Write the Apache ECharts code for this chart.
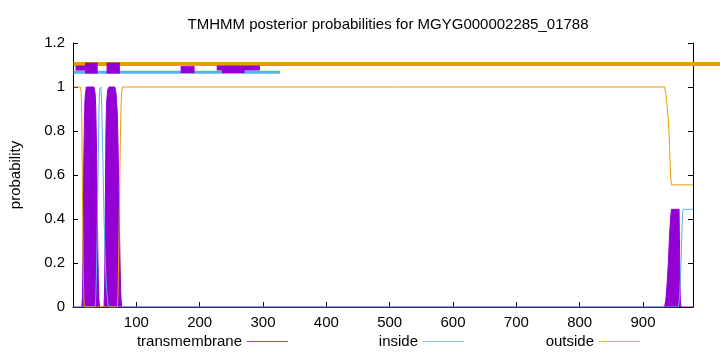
<!DOCTYPE html>
<html><head><meta charset="utf-8">
<script src="https://cdn.jsdelivr.net/npm/echarts@6/dist/echarts.min.js"></script>
<style>html,body{margin:0;padding:0;background:#fff}#c{width:720px;height:352px}</style>
</head><body><div id="c"></div>
<script>
const chartTitle = 'TMHMM posterior probabilities for MGYG000002285_01788';
const seqLength = 979;
const xTickStep = 100;
const yTickStep = 0.2;
const yMax = 1.2;

// posterior probability curves: [residue, probability]
const transmembrane = [[1,0],[14,0],[15,0.05],[16,0.3],[17,0.65],[18,0.85],[19,0.95],[21,1],[33,1],[35,0.97],[36,0.9],[37,0.75],[38,0.55],[39,0.3],[40,0.12],[41,0.03],[42,0],
  [49,0],[50,0.1],[51,0.45],[52,0.8],[53,0.93],[55,0.99],[57,1],[66,1],[68,0.97],[70,0.88],[71,0.75],[72,0.6],[73,0.42],[74,0.25],[75,0.1],[76,0.03],[77,0],
  [934,0],[936,0.03],[938,0.1],[940,0.2],[942,0.33],[944,0.42],[945,0.444],[957,0.444],[958,0.2],[959,0.03],[960,0],[979,0]];
const inside = [[1,0],[35,0],[36,0.05],[37,0.15],[38,0.3],[39,0.5],[40,0.7],[41,0.9],[42,0.99],[44,1],[45,0.95],[47,0.7],[49,0.4],[51,0.2],[53,0.08],[55,0.02],[57,0],
  [956,0],[958,0.05],[960,0.2],[962,0.38],[963,0.444],[979,0.444]];
const outside = [[1,1],[12,1],[13,0.97],[14,0.85],[15,0.5],[16,0.2],[17,0.05],[18,0],[70,0],[71,0.05],[72,0.2],[73,0.4],[74,0.6],[75,0.8],[76,0.93],[77,0.98],[78,1],
  [934,1],[936,0.97],[938,0.92],[940,0.85],[941,0.8],[942,0.73],[943,0.64],[944,0.58],[945,0.555],[979,0.555]];

// predicted topology bars along the top: [start, end]
const outsideBarStart = 1;
const outsideBarLevel = 1.105;
const insideBar = [[1, 327]];
const insideBarLevel = 1.067;
const tmBarsWide = [[19, 39], [53, 74]];
const tmBarsWideLevel = 1.086;
const tmBarsMid = [[170, 192], [235, 271]];
const tmBarsMidLevel = 1.079;
const tmBarsThin = [[4, 19], [227, 295]];
const tmBarsThinLevel = 1.086;

const C_TM = '#9400d3', C_IN = '#56b4e9', C_OUT = '#e69f00';
const FONT = 'Liberation Sans';
const FS = 15;

// full-width helper grid (same left edge and scale as the plot, extends to the canvas edge)
const plotLeft = 73, plotRight = 27, canvasW = 720;
const wideMax = seqLength * (canvasW - plotLeft) / (canvasW - plotLeft - plotRight);

function barSeries(ranges, level, color, width, z, axisIdx) {
  return ranges.map(r => ({
    type: 'line', name: 'bar', data: [[r[0], level], [r[1], level]],
    xAxisIndex: axisIdx, yAxisIndex: axisIdx === 1 ? 2 : 0,
    showSymbol: false, symbol: 'none', clip: false, silent: true, z: z,
    lineStyle: { color: color, width: width, cap: 'butt' }
  }));
}

function legendFor(name, color, right) {
  return { data: [name], right: right, top: 329, align: 'right', icon: 'rect', itemWidth: 41, itemHeight: 1,
    itemStyle: { color: color, borderWidth: 0 },
    textStyle: { fontFamily: FONT, fontSize: FS, color: '#000' } };
}

const chart = echarts.init(document.getElementById('c'), null, { renderer: 'canvas' });
chart.setOption({
  animation: false,
  backgroundColor: '#fff',
  textStyle: { fontFamily: FONT },
  title: {
    text: chartTitle, left: 383, top: 12, textAlign: 'center',
    textStyle: { fontFamily: FONT, fontSize: FS, fontWeight: 'normal', color: '#000' }
  },
  grid: [
    { left: plotLeft, right: plotRight, top: 43, bottom: 45 },
    { left: plotLeft, right: 0, top: 43, bottom: 45 }
  ],
  legend: [
    legendFor('transmembrane', '#a040d8', 427),
    legendFor('inside', '#80c6ee', 251),
    legendFor('outside', '#ecb440', 75)
  ],
  xAxis: [{
    type: 'value', min: 0, max: seqLength, interval: xTickStep, gridIndex: 0,
    axisLine: { show: true, onZero: false, lineStyle: { color: '#000', width: 1 } },
    axisTick: { show: true, inside: true, length: 5, lineStyle: { color: '#000' } },
    axisLabel: { showMinLabel: false, showMaxLabel: false, margin: 8, fontFamily: FONT, fontSize: FS, color: '#000' },
    splitLine: { show: false }
  }, {
    type: 'value', min: 0, max: wideMax, gridIndex: 1, show: false
  }],
  yAxis: [
    { type: 'value', min: 0, max: yMax, interval: yTickStep, name: 'probability', nameLocation: 'middle', nameGap: 50, nameRotate: 90,
      gridIndex: 0,
      nameTextStyle: { fontFamily: FONT, fontSize: FS, color: '#000' },
      axisLine: { show: true, lineStyle: { color: '#000', width: 1 } },
      axisTick: { show: true, inside: true, length: 5, lineStyle: { color: '#000' } },
      axisLabel: { margin: 8, fontFamily: FONT, fontSize: FS, color: '#000' },
      splitLine: { show: false } },
    { type: 'value', min: 0, max: yMax, interval: yTickStep, position: 'right', gridIndex: 0,
      axisLine: { show: true, lineStyle: { color: '#000', width: 1 } },
      axisTick: { show: true, inside: true, length: 5, lineStyle: { color: '#000' } },
      axisLabel: { show: false }, splitLine: { show: false } },
    { type: 'value', min: 0, max: yMax, gridIndex: 1, show: false }
  ],
  series: [
    { type: 'line', name: 'transmembrane', data: transmembrane, showSymbol: false, symbol: 'none', z: 3,
      itemStyle: { color: C_TM }, lineStyle: { color: C_TM, width: 1 }, areaStyle: { color: C_TM, opacity: 1 } },
    { type: 'line', name: 'inside', data: inside, showSymbol: false, symbol: 'none', z: 4,
      itemStyle: { color: C_IN }, lineStyle: { color: C_IN, width: 1 } },
    { type: 'line', name: 'outside', data: outside, showSymbol: false, symbol: 'none', z: 5,
      itemStyle: { color: C_OUT }, lineStyle: { color: C_OUT, width: 1 } },
    ...barSeries([[outsideBarStart, wideMax]], outsideBarLevel, C_OUT, 4, 6, 1),
    ...barSeries(insideBar, insideBarLevel, C_IN, 3, 6, 0),
    ...barSeries(tmBarsThin, tmBarsThinLevel, C_TM, 5, 7, 0),
    ...barSeries(tmBarsMid, tmBarsMidLevel, C_TM, 7, 7, 0),
    ...barSeries(tmBarsWide, tmBarsWideLevel, C_TM, 11, 7, 0)
  ]
});
</script></body></html>
